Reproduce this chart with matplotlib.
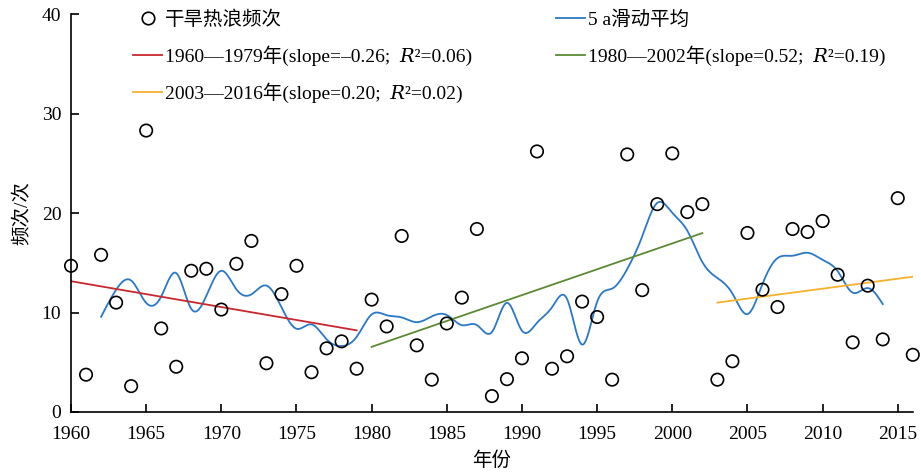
import numpy as np
import pandas as pd
import matplotlib
matplotlib.use('Agg')
import matplotlib.pyplot as plt
from matplotlib.lines import Line2D

plt.rcParams['font.family'] = ['Liberation Serif', 'Noto Sans CJK SC', 'DejaVu Serif', 'DejaVu Sans']

# 干旱热浪频次 (1960-2016)
years = np.arange(1960, 2017)
freq = [14.7, 3.75, 15.8, 11.0, 2.6, 28.3, 8.4, 4.55, 14.2, 14.4,
        10.3, 14.9, 17.2, 4.9, 11.85, 14.7, 4.0, 6.4, 7.1, 4.35,
        11.3, 8.6, 17.7, 6.7, 3.25, 8.9, 11.5, 18.4, 1.6, 3.3,
        5.4, 26.2, 4.35, 5.6, 11.1, 9.55, 3.25, 25.9, 12.25, 20.9,
        26.0, 20.1, 20.9, 3.25, 5.1, 18.0, 12.3, 10.55, 18.4, 18.1,
        19.2, 13.8, 7.0, 12.7, 7.3, 21.5, 5.75]

# 分段线性趋势: 起始年, 终止年, 起始值, 斜率, R²
seg_start = [1960, 1980, 2003]
seg_end = [1979, 2002, 2016]
seg_y0 = [13.15, 6.55, 11.0]
seg_slope = [-0.26, 0.52, 0.20]
seg_r2 = [0.06, 0.19, 0.02]
seg_color = ['#c8282d', '#5b8a32', '#f6b12c']


def natural_spline(x, y, xs):
    n = len(x)
    h = np.diff(x)
    A = np.zeros((n, n))
    rhs = np.zeros(n)
    A[0, 0] = A[-1, -1] = 1
    for i in range(1, n - 1):
        A[i, i - 1] = h[i - 1]
        A[i, i] = 2 * (h[i - 1] + h[i])
        A[i, i + 1] = h[i]
        rhs[i] = 3 * ((y[i + 1] - y[i]) / h[i] - (y[i] - y[i - 1]) / h[i - 1])
    c = np.linalg.solve(A, rhs)
    b = (y[1:] - y[:-1]) / h - h * (2 * c[:-1] + c[1:]) / 3
    d = (c[1:] - c[:-1]) / (3 * h)
    idx = np.clip(np.searchsorted(x, xs) - 1, 0, n - 2)
    dx = xs - x[idx]
    return y[idx] + b[idx] * dx + c[idx] * dx ** 2 + d[idx] * dx ** 3


# 5 a 滑动平均, 样条平滑
ma = pd.Series(freq, index=years).rolling(5, center=True).mean().dropna()
ma_x = ma.index.values.astype(float)
xs = np.linspace(ma_x[0], ma_x[-1], 600)
ma_smooth = natural_spline(ma_x, ma.values, xs)

fig = plt.figure(figsize=(9.21, 4.73), dpi=100)
ax = fig.add_axes([0.0771, 0.129, 0.914, 0.841])

ax.scatter(years, freq, s=80, facecolors='none', edgecolors='black',
           linewidths=1.2, zorder=3, clip_on=False)
h_ma, = ax.plot(xs, ma_smooth, color='#2a78c6', lw=1.3, zorder=2)

seg_handles = []
for x0, x1, y0, k, c in zip(seg_start, seg_end, seg_y0, seg_slope, seg_color):
    xx = np.array([x0, x1])
    h, = ax.plot(xx, y0 + k * (xx - x0), color=c, lw=1.3, zorder=2)
    seg_handles.append(h)

seg_labels = []
for x0, x1, k, r2 in zip(seg_start, seg_end, seg_slope, seg_r2):
    ks = f'{k:.2f}'.replace('-', '–')
    seg_labels.append(f'{x0}—{x1}年(slope={ks};  \U0001D445²={r2:.2f})')

pt_handle = Line2D([], [], marker='o', ls='none', mfc='none', mec='black',
                   ms=9, mew=1.2)
handles = [pt_handle, seg_handles[0], seg_handles[2], h_ma, seg_handles[1]]
labels = ['干旱热浪频次', seg_labels[0], seg_labels[2], '5 a滑动平均', seg_labels[1]]
ax.legend(handles, labels, ncol=2, loc='upper left', bbox_to_anchor=(0.074, 1.009),
          frameon=False, fontsize=14, handlelength=1.5, handletextpad=0.15,
          labelspacing=0.85, columnspacing=4.3, borderpad=0, borderaxespad=0)

ax.set_xlim(1960, 2016)
ax.set_ylim(0, 40)
ax.set_xticks(np.arange(1960, 2016, 5))
ax.set_yticks(np.arange(0, 41, 10))
ax.spines['top'].set_visible(False)
ax.spines['right'].set_visible(False)
for s in ['left', 'bottom']:
    ax.spines[s].set_linewidth(1.2)
ax.tick_params(direction='in', length=6, width=1.2, labelsize=14)
ax.tick_params(axis='x', pad=10)
ax.tick_params(axis='y', pad=7)
ax.set_xlabel('年份', fontsize=14, labelpad=6)
ax.set_ylabel('频次/次', fontsize=14, labelpad=8)

fig.savefig('out.png', dpi=100)
